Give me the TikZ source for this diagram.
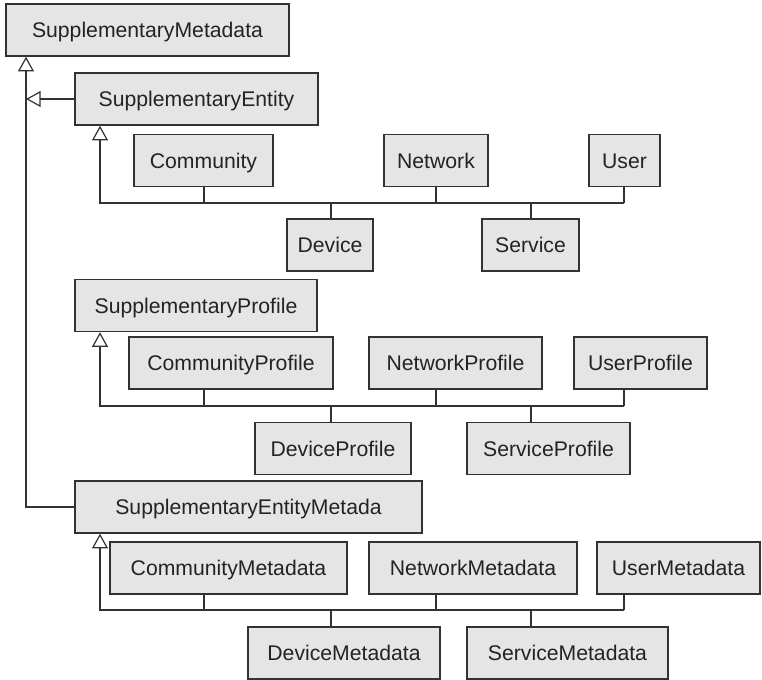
\documentclass[tikz,border=0pt]{standalone}
\usepackage{fontspec}
\setmainfont{Liberation Sans}
\usepackage{tikz}
\usetikzlibrary{arrows.meta,positioning}
\definecolor{gray1}{RGB}{50,50,50}
\definecolor{gray2}{RGB}{229,229,230}
\definecolor{black1}{RGB}{35,35,35}

\tikzset{
    cls/.style={draw=gray1, fill=gray2, line width=1.1pt, inner sep=0pt,
        minimum height=39pt, text height=13pt, text depth=1.6pt, text=black1,
        font=\fontsize{15.9}{18}\selectfont},
    link/.style={draw=gray1, line width=1.1pt},
    inherit/.style={link, -{Triangle[open, length=11pt, width=12pt, line width=0.9pt]}}
}

\begin{document}
\begin{tikzpicture}[x=0.75pt, y=-0.75pt]
    \useasboundingbox (0,0) rectangle (762,680);
    % Root and the trunk
    \node[cls, minimum width=212.25pt] (meta) at (147.5,30) {SupplementaryMetadata};
    \node[cls, minimum width=182.25pt] (entity) at (196.5,99) {SupplementaryEntity};
    \node[cls, minimum width=181.5pt] (profile) at (196,305.5) {SupplementaryProfile};
    \node[cls, minimum width=260.25pt] (emeta) at (248.5,507) {SupplementaryEntityMetada};
    \coordinate (trunk) at (26,0);
    \draw[inherit] (emeta.west) -| (meta.south -| trunk);
    \draw[inherit] (entity.west) -- (entity.west -| trunk);
    % Columns for the stubs
    \coordinate (colA) at (204,0);
    \coordinate (colB) at (331,0);
    \coordinate (colC) at (436,0);
    \coordinate (colD) at (531,0);
    \coordinate (colE) at (624,0);
    \coordinate (branch) at (100,0);
    % Entities
    \node[cls, minimum width=104.25pt] (comm) at (203.5,160.5) {Community};
    \node[cls, minimum width=78pt] (net) at (436,160.5) {Network};
    \node[cls, minimum width=53.25pt] (user) at (624.5,160.5) {User};
    \node[cls, minimum width=64.5pt] (dev) at (330,245) {Device};
    \node[cls, minimum width=72.75pt] (serv) at (530.5,245) {Service};
    \coordinate (bus1) at (0,203);
    \draw[inherit] (bus1 -| colE) -- (bus1 -| branch) -- (entity.south -| branch);
    \foreach \n/\c in {comm/colA,net/colC,user/colE}
        \draw[link] (\n.south -| \c) -- (bus1 -| \c);
    \foreach \n/\c in {dev/colB,serv/colD}
        \draw[link] (\n.north -| \c) -- (bus1 -| \c);
    % Profiles
    \node[cls, minimum width=153pt] (cprof) at (231,363) {CommunityProfile};
    \node[cls, minimum width=129.75pt] (nprof) at (455.5,363) {NetworkProfile};
    \node[cls, minimum width=99.75pt] (uprof) at (640.5,363) {UserProfile};
    \node[cls, minimum width=117pt] (dprof) at (333,448.5) {DeviceProfile};
    \node[cls, minimum width=122.25pt] (sprof) at (548.5,448.5) {ServiceProfile};
    \coordinate (bus2) at (0,406);
    \draw[inherit] (bus2 -| colE) -- (bus2 -| branch) -- (profile.south -| branch);
    \foreach \n/\c in {cprof/colA,nprof/colC,uprof/colE}
        \draw[link] (\n.south -| \c) -- (bus2 -| \c);
    \foreach \n/\c in {dprof/colB,sprof/colD}
        \draw[link] (\n.north -| \c) -- (bus2 -| \c);
    % Entity metadata
    \node[cls, minimum width=177.75pt] (cmeta) at (228.5,568) {CommunityMetadata};
    \node[cls, minimum width=156pt] (nmeta) at (473,568) {NetworkMetadata};
    \node[cls, minimum width=122.25pt] (umeta) at (678.5,568) {UserMetadata};
    \node[cls, minimum width=144pt] (dmeta) at (344,653) {DeviceMetadata};
    \node[cls, minimum width=150.75pt] (smeta) at (567.5,653) {ServiceMetadata};
    \coordinate (bus3) at (0,610);
    \draw[inherit] (bus3 -| colE) -- (bus3 -| branch) -- (emeta.south -| branch);
    \foreach \n/\c in {cmeta/colA,nmeta/colC,umeta/colE}
        \draw[link] (\n.south -| \c) -- (bus3 -| \c);
    \foreach \n/\c in {dmeta/colB,smeta/colD}
        \draw[link] (\n.north -| \c) -- (bus3 -| \c);
\end{tikzpicture}
\end{document}
